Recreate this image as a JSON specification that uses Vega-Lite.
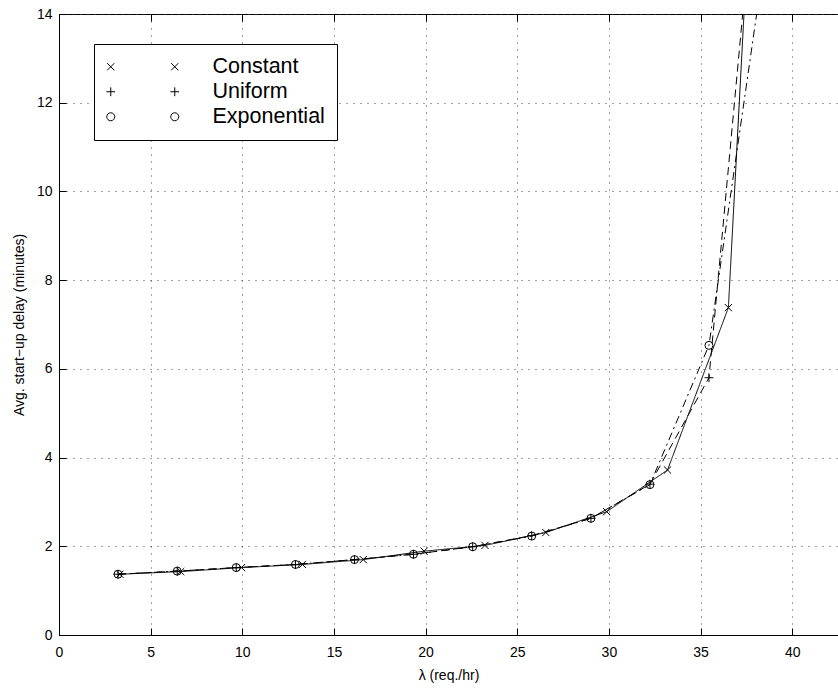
{
  "$schema": "https://vega.github.io/schema/vega-lite/v6.json",
  "autosize": "none",
  "width": 779,
  "height": 621,
  "padding": {"left": 59, "top": 14, "right": 0, "bottom": 53},
  "background": "white",
  "data": {
    "values": [
      {"series": "Constant", "x": 3.32, "y": 1.37},
      {"series": "Constant", "x": 6.64, "y": 1.43},
      {"series": "Constant", "x": 9.96, "y": 1.52},
      {"series": "Constant", "x": 13.28, "y": 1.59},
      {"series": "Constant", "x": 16.6, "y": 1.70},
      {"series": "Constant", "x": 19.92, "y": 1.89},
      {"series": "Constant", "x": 23.24, "y": 2.02},
      {"series": "Constant", "x": 26.56, "y": 2.31},
      {"series": "Constant", "x": 29.88, "y": 2.78},
      {"series": "Constant", "x": 33.2, "y": 3.72},
      {"series": "Constant", "x": 36.52, "y": 7.38},
      {"series": "Constant", "x": 39.84, "y": 33.2},
      {"series": "Uniform", "x": 3.22, "y": 1.37},
      {"series": "Uniform", "x": 6.45, "y": 1.44},
      {"series": "Uniform", "x": 9.67, "y": 1.52},
      {"series": "Uniform", "x": 12.9, "y": 1.59},
      {"series": "Uniform", "x": 16.12, "y": 1.70},
      {"series": "Uniform", "x": 19.34, "y": 1.82},
      {"series": "Uniform", "x": 22.57, "y": 1.99},
      {"series": "Uniform", "x": 25.79, "y": 2.24},
      {"series": "Uniform", "x": 29.02, "y": 2.63},
      {"series": "Uniform", "x": 32.24, "y": 3.40},
      {"series": "Uniform", "x": 35.46, "y": 5.80},
      {"series": "Uniform", "x": 38.69, "y": 20.2},
      {"series": "Exponential", "x": 3.22, "y": 1.37},
      {"series": "Exponential", "x": 6.45, "y": 1.44},
      {"series": "Exponential", "x": 9.67, "y": 1.52},
      {"series": "Exponential", "x": 12.9, "y": 1.59},
      {"series": "Exponential", "x": 16.12, "y": 1.70},
      {"series": "Exponential", "x": 19.34, "y": 1.82},
      {"series": "Exponential", "x": 22.57, "y": 1.99},
      {"series": "Exponential", "x": 25.79, "y": 2.23},
      {"series": "Exponential", "x": 29.02, "y": 2.63},
      {"series": "Exponential", "x": 32.24, "y": 3.39},
      {"series": "Exponential", "x": 35.46, "y": 6.53},
      {"series": "Exponential", "x": 38.69, "y": 15.8}
    ]
  },
  "layer": [
    {
      "mark": {"type": "line", "clip": true, "color": "black", "strokeWidth": 1},
      "encoding": {
        "x": {"field": "x", "type": "quantitative", "scale": {"domain": [0, 42.5], "nice": false, "zero": false},
              "axis": {"orient": "top", "labels": false, "grid": false, "title": null, "values": [0,5,10,15,20,25,30,35,40], "tickSize": -7, "domain": false}},
        "y": {"field": "y", "type": "quantitative", "scale": {"domain": [0, 14], "nice": false, "zero": false},
              "axis": {"title": "Avg. start−up delay (minutes)", "values": [0,2,4,6,8,10,12,14], "tickSize": -7, "labelPadding": 14, "titlePadding": 10, "labelFlush": false, "labelOverlap": false, "grid": true}},
        "detail": {"field": "series"},
        "strokeDash": {"field": "series", "type": "nominal",
                       "scale": {"domain": ["Constant", "Uniform", "Exponential"], "range": [[1, 0], [8, 5], [8, 4, 2, 4]]},
                       "legend": null}
      }
    },
    {
      "mark": {"type": "point", "clip": true, "filled": false, "color": "black", "strokeWidth": 1, "size": 64, "opacity": 1},
      "encoding": {
        "x": {"field": "x", "type": "quantitative",
              "axis": {"orient": "bottom", "title": "λ (req./hr)", "values": [0,5,10,15,20,25,30,35,40], "tickSize": -7, "labelPadding": 17, "titlePadding": 9, "labelFlush": false, "labelOverlap": false, "grid": true}},
        "y": {"field": "y", "type": "quantitative", "axis": null},
        "shape": {"field": "series", "type": "nominal",
                  "scale": {"domain": ["Constant", "Uniform", "Exponential"], "range": ["M-0.9,-0.9L0.9,0.9M-0.9,0.9L0.9,-0.9", "M-1.1,0L1.1,0M0,-1.1L0,1.1", "circle"]},
                  "legend": null}
      }
    },
    {
      "mark": {"type": "point", "clip": true, "filled": false, "color": "black", "strokeWidth": 1, "size": 64, "opacity": 0},
      "encoding": {
        "x": {"field": "x", "type": "quantitative", "axis": null},
        "y": {"field": "y", "type": "quantitative", "axis": null},
        "shape": {"field": "series", "type": "nominal",
                  "scale": {"domain": ["Constant", "Uniform", "Exponential"],
                            "range": ["M-2.4,-0.9L-0.6,0.9M-2.4,0.9L-0.6,-0.9M13.6,-0.9L15.4,0.9M13.6,0.9L15.4,-0.9",
                                      "M-2.6,0L-0.4,0M-1.5,-1.1L-1.5,1.1M13.4,0L15.6,0M14.5,-1.1L14.5,1.1",
                                      "M-2.5,0A1,1,0,1,1,-0.5,0A1,1,0,1,1,-2.5,0ZM13.5,0A1,1,0,1,1,15.5,0A1,1,0,1,1,13.5,0Z"]},
                  "legend": {"title": null, "orient": "none", "legendX": 35, "legendY": 30,
                             "symbolOpacity": 1, "symbolStrokeColor": "black", "symbolFillColor": "transparent", "symbolStrokeWidth": 1,
                             "symbolSize": 64, "labelOffset": 85, "labelFontSize": 21.5, "labelFont": "Liberation Sans", "labelColor": "black",
                             "strokeColor": "black", "fillColor": "white", "padding": 12, "rowPadding": 2, "labelLimit": 300}}
      }
    }
  ],
  "resolve": {"scale": {"shape": "independent"}, "axis": {"x": "independent", "y": "independent"}},
  "config": {
    "font": "Liberation Sans",
    "view": {"stroke": "black", "strokeWidth": 1},
    "axis": {
      "labelFont": "Liberation Sans", "titleFont": "Liberation Sans",
      "labelFontSize": 14, "titleFontSize": 14, "titleFontWeight": "normal",
      "labelColor": "black", "titleColor": "black",
      "domainColor": "black", "tickColor": "black", "tickWidth": 1,
      "gridColor": "#444", "gridDash": [1, 6], "gridOpacity": 1, "gridWidth": 1
    }
  }
}
